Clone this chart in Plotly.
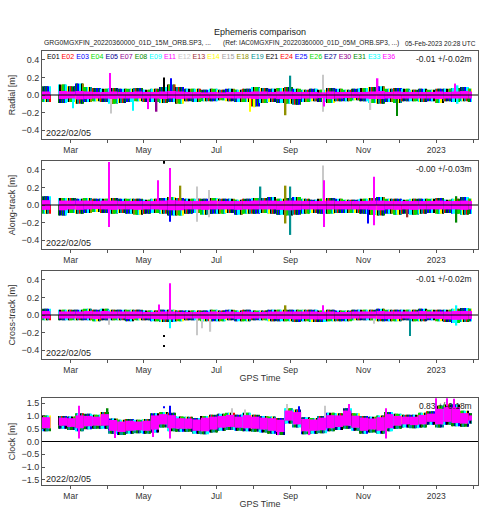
import plotly.graph_objects as go
import pandas as pd

# ---------------- data ----------------
sats = ['E01','E02','E03','E04','E05','E07','E08','E09','E11','E12','E13','E14',
        'E15','E18','E19','E21','E24','E25','E26','E27','E30','E31','E33','E36']
palette = ['#000000','#ff0000','#0000ff','#00dd00','#000090','#900090','#008800',
           '#00ffff','#ff00ff','#c8c8c8','#a03030','#ffff00','#a0a0a0','#909000','#009090']

week_start = ['2022-02-05','2022-02-19','2022-02-26','2022-03-05','2022-03-12','2022-03-19','2022-03-26',
              '2022-04-02','2022-04-09','2022-04-16','2022-04-23','2022-04-30','2022-05-07','2022-05-14',
              '2022-05-21','2022-05-28','2022-06-04','2022-06-11','2022-06-18','2022-06-25','2022-07-02',
              '2022-07-09','2022-07-16','2022-07-23','2022-07-30','2022-08-06','2022-08-13','2022-08-20',
              '2022-08-27','2022-09-03','2022-09-10','2022-09-17','2022-09-24','2022-10-01','2022-10-08',
              '2022-10-15','2022-10-22','2022-10-29','2022-11-05','2022-11-12','2022-11-19','2022-11-26',
              '2022-12-03','2022-12-10','2022-12-17','2022-12-24','2022-12-31','2023-01-07','2023-01-14',
              '2023-01-21','2023-01-28']
data_end = '2023-01-31'

# Radial
rad_hi = [0.10,0.12,0.10,0.13,0.09,0.08,0.07,0.08,0.07,0.07,
          0.08,0.06,0.07,0.09,0.12,0.09,0.07,0.07,0.06,0.07,
          0.06,0.07,0.06,0.07,0.09,0.08,0.07,0.08,0.09,0.07,
          0.06,0.07,0.06,0.08,0.07,0.06,0.07,0.08,0.09,0.10,
          0.07,0.08,0.07,0.06,0.07,0.06,0.07,0.07,0.08,0.09,
          0.07]
rad_lo = [-0.08,-0.09,-0.08,-0.10,-0.08,-0.07,-0.08,-0.10,-0.09,-0.08,
          -0.07,-0.08,-0.08,-0.09,-0.08,-0.10,-0.07,-0.08,-0.07,-0.07,
          -0.06,-0.07,-0.08,-0.08,-0.13,-0.09,-0.08,-0.09,-0.10,-0.11,
          -0.08,-0.07,-0.08,-0.09,-0.07,-0.07,-0.06,-0.07,-0.09,-0.10,
          -0.08,-0.09,-0.07,-0.07,-0.08,-0.07,-0.09,-0.07,-0.08,-0.07,
          -0.08]
rad_mhi = [0.04,0.045,0.04,0.045,0.04,0.035,0.035,0.04,0.035,0.035,
           0.04,0.035,0.035,0.04,0.045,0.04,0.035,0.035,0.03,0.035,
           0.03,0.035,0.035,0.035,0.04,0.04,0.035,0.04,0.04,0.035,
           0.035,0.035,0.03,0.04,0.035,0.035,0.035,0.035,0.04,0.045,
           0.035,0.04,0.035,0.035,0.035,0.035,0.04,0.035,0.04,0.045,
           0.04]
rad_mlo = [-0.045,-0.045,-0.04,-0.05,-0.045,-0.04,-0.04,-0.045,-0.04,-0.04,
           -0.04,-0.04,-0.04,-0.045,-0.04,-0.045,-0.04,-0.04,-0.035,-0.04,
           -0.035,-0.04,-0.04,-0.04,-0.045,-0.045,-0.04,-0.045,-0.045,-0.045,
           -0.04,-0.04,-0.035,-0.045,-0.04,-0.035,-0.035,-0.04,-0.045,-0.045,
           -0.04,-0.045,-0.04,-0.04,-0.04,-0.04,-0.045,-0.04,-0.04,-0.04,
           -0.04]
rad_sp_date = ['2022-03-03','2022-04-03','2022-04-04','2022-04-22','2022-05-05','2022-05-12','2022-05-18',
               '2022-05-24','2022-05-27','2022-07-29','2022-08-02','2022-08-28','2022-09-01','2022-09-28',
               '2022-09-29','2022-11-07','2022-11-13','2022-11-29','2023-01-17','2023-01-19']
rad_sp_sat = ['E09','E36','E12','E33','E11','E07','E01','E03','E13','E14','E14','E18','E19','E12',
              'E11','E12','E36','E08','E36','E33']
rad_sp_lo = [-0.15,0.0,-0.21,-0.18,-0.16,-0.19,0.0,0.0,0.0,-0.19,-0.14,-0.23,0.0,-0.19,
             -0.13,-0.17,0.0,-0.24,0.0,-0.10]
rad_sp_hi = [0.0,0.25,0.0,0.0,0.0,0.0,0.20,0.19,0.12,0.0,0.0,0.0,0.22,0.23,
             0.0,0.0,0.19,0.0,0.13,0.11]

# Along-track
alo_hi = [0.10,0.08,0.08,0.07,0.08,0.07,0.07,0.08,0.07,0.07,
          0.07,0.06,0.07,0.08,0.09,0.08,0.07,0.07,0.07,0.08,
          0.07,0.07,0.06,0.07,0.08,0.08,0.09,0.07,0.08,0.09,
          0.07,0.06,0.07,0.08,0.07,0.06,0.06,0.07,0.08,0.09,
          0.07,0.07,0.06,0.07,0.07,0.07,0.08,0.06,0.07,0.09,
          0.07]
alo_lo = [-0.10,-0.12,-0.09,-0.10,-0.09,-0.08,-0.09,-0.10,-0.09,-0.10,
          -0.11,-0.10,-0.09,-0.10,-0.12,-0.12,-0.10,-0.09,-0.11,-0.10,
          -0.10,-0.09,-0.11,-0.10,-0.10,-0.09,-0.10,-0.11,-0.12,-0.11,
          -0.10,-0.09,-0.10,-0.10,-0.09,-0.09,-0.09,-0.10,-0.11,-0.12,
          -0.10,-0.11,-0.10,-0.11,-0.10,-0.09,-0.10,-0.09,-0.10,-0.11,
          -0.10]
alo_mhi = [0.055,0.05,0.05,0.05,0.05,0.045,0.05,0.05,0.045,0.045,
           0.045,0.045,0.045,0.05,0.055,0.05,0.045,0.045,0.045,0.05,
           0.045,0.045,0.045,0.045,0.05,0.05,0.05,0.045,0.05,0.05,
           0.045,0.045,0.045,0.05,0.045,0.045,0.045,0.045,0.05,0.05,
           0.045,0.045,0.045,0.045,0.045,0.045,0.05,0.045,0.045,0.05,
           0.045]
alo_mlo = [-0.055,-0.06,-0.05,-0.055,-0.05,-0.045,-0.05,-0.055,-0.05,-0.05,
           -0.055,-0.05,-0.05,-0.055,-0.06,-0.06,-0.05,-0.05,-0.055,-0.05,
           -0.05,-0.05,-0.055,-0.05,-0.05,-0.05,-0.05,-0.055,-0.06,-0.055,
           -0.05,-0.05,-0.05,-0.05,-0.05,-0.05,-0.05,-0.05,-0.055,-0.06,
           -0.05,-0.055,-0.05,-0.055,-0.05,-0.05,-0.05,-0.05,-0.05,-0.055,
           -0.05]
alo_sp_date = ['2022-04-02','2022-05-13','2022-05-18','2022-05-23','2022-05-23','2022-06-01','2022-06-15',
               '2022-06-25','2022-08-07','2022-08-28','2022-09-01','2022-09-28','2022-09-29','2022-11-05',
               '2022-11-10','2022-12-08','2023-01-18']
alo_sp_sat = ['E36','E11','E01','E03','E36','E18','E12','E12','E19','E18','E19','E12','E36','E03',
              'E36','E13','E08']
alo_sp_lo = [-0.25,0.0,0.47,-0.19,0.0,0.0,-0.19,-0.14,0.0,-0.21,-0.34,0.0,-0.25,-0.21,
             -0.23,-0.14,-0.20]
alo_sp_hi = [0.49,0.28,0.50,0.30,0.42,0.22,0.21,0.17,0.21,0.22,0.21,0.45,0.28,0.0,
             0.32,0.0,0.10]

# Cross-track
crs_hi = [0.07,0.06,0.06,0.06,0.07,0.06,0.07,0.06,0.06,0.06,
          0.06,0.05,0.05,0.06,0.06,0.05,0.05,0.05,0.05,0.06,
          0.05,0.06,0.05,0.06,0.05,0.05,0.06,0.06,0.06,0.06,
          0.06,0.06,0.05,0.06,0.05,0.05,0.06,0.06,0.06,0.07,
          0.06,0.06,0.06,0.06,0.07,0.06,0.06,0.06,0.07,0.08,
          0.07]
crs_lo = [-0.06,-0.06,-0.06,-0.06,-0.06,-0.07,-0.06,-0.06,-0.06,-0.07,
          -0.06,-0.06,-0.07,-0.08,-0.08,-0.07,-0.06,-0.06,-0.07,-0.07,
          -0.07,-0.06,-0.07,-0.07,-0.06,-0.06,-0.07,-0.07,-0.07,-0.08,
          -0.07,-0.08,-0.08,-0.07,-0.07,-0.07,-0.06,-0.06,-0.06,-0.07,
          -0.07,-0.07,-0.06,-0.07,-0.07,-0.06,-0.07,-0.08,-0.09,-0.08,
          -0.07]
crs_mhi = [0.045,0.04,0.04,0.04,0.045,0.04,0.045,0.04,0.04,0.04,
           0.04,0.035,0.035,0.04,0.04,0.035,0.035,0.035,0.035,0.04,
           0.035,0.04,0.035,0.04,0.035,0.035,0.04,0.04,0.04,0.04,
           0.04,0.04,0.035,0.04,0.035,0.035,0.04,0.04,0.04,0.045,
           0.04,0.04,0.04,0.04,0.045,0.04,0.04,0.04,0.045,0.045,
           0.045]
crs_mlo = [-0.04,-0.04,-0.04,-0.04,-0.04,-0.045,-0.04,-0.04,-0.04,-0.045,
           -0.04,-0.04,-0.045,-0.05,-0.05,-0.045,-0.04,-0.04,-0.045,-0.045,
           -0.045,-0.04,-0.045,-0.045,-0.04,-0.04,-0.045,-0.045,-0.045,-0.05,
           -0.045,-0.05,-0.05,-0.045,-0.045,-0.045,-0.04,-0.04,-0.04,-0.045,
           -0.045,-0.045,-0.04,-0.045,-0.045,-0.04,-0.045,-0.05,-0.055,-0.05,
           -0.045]
crs_sp_date = ['2022-04-02','2022-05-14','2022-05-18','2022-05-18','2022-05-23','2022-05-23','2022-06-15',
               '2022-06-19','2022-06-26','2022-08-28','2022-09-28','2022-11-10','2022-12-10','2023-01-18']
crs_sp_sat = ['E12','E36','E01','E01','E36','E09','E12','E12','E12','E18','E36','E12','E19','E33']
crs_sp_lo = [-0.11,0.0,-0.36,-0.25,0.0,-0.15,-0.23,-0.15,-0.19,0.0,0.0,-0.10,-0.24,-0.12]
crs_sp_hi = [0.0,0.12,-0.34,-0.23,0.36,0.0,0.0,0.0,0.0,0.11,0.11,0.0,0.0,0.11]

# Clock
clk_hi = [1.02,1.00,0.98,1.10,1.08,1.05,1.15,0.90,0.85,0.88,
          0.85,0.88,1.10,1.15,1.12,0.98,0.97,0.92,1.00,1.05,
          1.08,1.12,1.05,1.12,1.05,1.00,0.98,0.92,1.30,1.25,
          0.95,0.92,1.00,1.12,1.10,1.30,1.10,1.00,0.97,1.02,
          1.15,1.08,1.05,1.05,1.12,1.18,1.40,1.45,1.45,1.20,
          1.10]
clk_lo = [0.40,0.50,0.45,0.40,0.48,0.50,0.50,0.30,0.25,0.30,
          0.32,0.30,0.35,0.55,0.40,0.38,0.38,0.30,0.28,0.35,
          0.42,0.45,0.42,0.40,0.38,0.35,0.30,0.25,0.70,0.55,
          0.28,0.30,0.32,0.40,0.45,0.50,0.42,0.30,0.35,0.30,
          0.40,0.50,0.55,0.52,0.55,0.65,0.55,0.65,0.60,0.58,
          0.70]
clk_mhi = [0.95,0.93,0.91,1.02,1.00,0.97,1.07,0.84,0.78,0.81,
           0.78,0.81,1.02,1.07,1.03,0.91,0.90,0.86,0.93,0.97,
           1.00,1.04,0.97,1.03,0.97,0.93,0.91,0.85,1.21,1.15,
           0.88,0.86,0.93,1.03,1.02,1.21,1.01,0.93,0.90,0.95,
           1.07,1.00,0.97,0.97,1.04,1.09,1.28,1.34,1.34,1.11,
           1.02]
clk_mlo = [0.52,0.62,0.57,0.52,0.60,0.62,0.62,0.42,0.37,0.42,
           0.44,0.42,0.47,0.67,0.52,0.50,0.50,0.42,0.40,0.47,
           0.54,0.57,0.54,0.52,0.50,0.47,0.42,0.37,0.82,0.67,
           0.40,0.42,0.44,0.52,0.57,0.62,0.54,0.42,0.47,0.42,
           0.52,0.62,0.67,0.64,0.67,0.77,0.67,0.77,0.72,0.70,
           0.82]
clk_sp_date = ['2022-03-08','2022-04-01','2022-04-07','2022-05-09','2022-05-18','2022-05-23','2022-05-23',
               '2022-07-14','2022-07-25','2022-08-22','2022-08-29','2022-09-08','2022-09-17','2022-09-30',
               '2022-10-20','2022-11-20','2023-01-01','2023-01-10','2023-01-16']
clk_sp_sat = ['E36','E08','E36','E36','E03','E03','E36','E12','E12','E36','E12','E03','E36','E12',
              'E36','E36','E36','E36','E36']
clk_sp_lo = [0.12,0.9,0.14,0.18,1.30,0.9,0.12,0.9,0.9,0.25,0.9,1.0,0.25,0.9,
             0.9,0.12,0.9,0.9,0.9]
clk_sp_hi = [1.40,1.30,0.5,0.5,1.38,1.40,0.6,1.30,1.25,0.5,1.47,1.38,0.5,1.40,
             1.47,1.30,1.69,1.69,1.67]

panel_titles = ['Radial [m]', 'Along-track [m]', 'Cross-track [m]', 'Clock [m]']
panel_stats = ['-0.01 +/-0.02m', '-0.00 +/-0.03m', '-0.01 +/-0.02m', '0.83 +/-0.18m']
start_label = '2022/02/05'
xtick_vals = ['2022-03-01','2022-05-01','2022-07-01','2022-09-01','2022-11-01','2023-01-01']
xtick_text = ['Mar','May','Jul','Sep','Nov','2023']
xminor_vals = ['2022-02-01','2022-04-01','2022-06-01','2022-08-01','2022-10-01','2022-12-01','2023-02-01']
title_text = 'Ephemeris comparison'
sub_left = 'GRG0MGXFIN_20220360000_01D_15M_ORB.SP3, ...'
sub_mid = '(Ref: IAC0MGXFIN_20220360000_01D_05M_ORB.SP3, ...)'
sub_right = '05-Feb-2023 20:28 UTC'

# ---------------- figure ----------------
FONT = 'Liberation Sans, Arial, sans-serif'
sat_color = {s: palette[i % len(palette)] for i, s in enumerate(sats)}
fringe_cycle = ['E08','E09','E01','E03','E19','E04','E33','E05','E14','E18','E31','E02',
                'E19','E09','E08','E21','E26','E25']
teal_cycle = ['E19','E08','E31','E09','E05','E19','E01','E33','E08','E19','E03']

DAY = 86400000
ws = pd.to_datetime(week_start)
ends = []
for i in range(len(ws)):
    e = ws[i] + pd.Timedelta(days=7)
    if i + 1 < len(ws):
        e = min(e, ws[i + 1])
    else:
        e = min(e, pd.Timestamp(data_end))
    ends.append(e)
NSUB = 7
FILL = 0.8

def sub_bars(lo, hi, shift, cycle):
    xs, bases, heights, widths, cols = [], [], [], [], []
    k = 0
    for i in range(len(ws)):
        span = (ends[i] - ws[i]) / NSUB
        for j in range(NSUB):
            xs.append(ws[i] + span * j)
            bases.append(lo[i])
            heights.append(hi[i] - lo[i])
            widths.append(span.total_seconds() * 1000 * FILL)
            cols.append(sat_color[cycle[(k * 7 + shift) % len(cycle)]])
            k += 1
    return xs, bases, heights, widths, cols

panels = [
    (rad_hi, rad_lo, rad_mhi, rad_mlo, rad_sp_date, rad_sp_sat, rad_sp_lo, rad_sp_hi, [-0.5, 0.5], [-0.4, -0.2, 0.0, 0.2, 0.4]),
    (alo_hi, alo_lo, alo_mhi, alo_mlo, alo_sp_date, alo_sp_sat, alo_sp_lo, alo_sp_hi, [-0.5, 0.5], [-0.4, -0.2, 0.0, 0.2, 0.4]),
    (crs_hi, crs_lo, crs_mhi, crs_mlo, crs_sp_date, crs_sp_sat, crs_sp_lo, crs_sp_hi, [-0.5, 0.5], [-0.4, -0.2, 0.0, 0.2, 0.4]),
    (clk_hi, clk_lo, clk_mhi, clk_mlo, clk_sp_date, clk_sp_sat, clk_sp_lo, clk_sp_hi, [-1.7, 1.7], [-1.5, -1.0, -0.5, 0.0, 0.5, 1.0, 1.5]),
]

H, W = 520, 490
mt, mb, ml, mr = 51, 35, 39, 11
ph = H - mt - mb
pix = [(51, 139), (161, 249), (271, 359), (398, 485)]
domains = [[(H - mb - b) / ph, (H - mb - t) / ph] for t, b in pix]

fig = go.Figure()
layout = dict(width=W, height=H, margin=dict(l=ml, r=mr, t=mt, b=mb),
              paper_bgcolor='white', plot_bgcolor='white', barmode='overlay',
              showlegend=False, font=dict(family=FONT, size=9, color='#222'))
shapes, annotations = [], []

def add_bars(xs, bs, hs, wd, cl, xa, ya):
    fig.add_trace(go.Bar(x=xs, y=hs, base=bs, width=wd, offset=0, marker=dict(color=cl, line=dict(width=0)),
                         xaxis=xa, yaxis=ya, hoverinfo='skip'))

for p, (hi, lo, mhi, mlo, sd, ss, slo, shi, yr, yt) in enumerate(panels):
    sfx = '' if p == 0 else str(p + 1)
    xa, ya = 'x' + sfx, 'y' + sfx
    # colored fringe (other satellites)
    if p < 3:
        zeros = [0.0] * len(hi)
        add_bars(*sub_bars(zeros, hi, 0, fringe_cycle), xa, ya)
        add_bars(*sub_bars(lo, zeros, 5, fringe_cycle), xa, ya)
    else:
        add_bars(*sub_bars(mlo, hi, 2, fringe_cycle), xa, ya)
        add_bars(*sub_bars(lo, mlo, 3, teal_cycle), xa, ya)
    # spikes / outliers
    fig.add_trace(go.Bar(x=pd.to_datetime(sd), y=[h - l for h, l in zip(shi, slo)], base=slo,
                         width=[1.2 * DAY] * len(sd), offset=-0.6 * DAY,
                         marker=dict(color=[sat_color[s] for s in ss], line=dict(width=0)),
                         xaxis=xa, yaxis=ya, hoverinfo='skip'))
    # E36 (drawn last, on top)
    fig.add_trace(go.Bar(x=ws, y=[h - l for h, l in zip(mhi, mlo)], base=mlo,
                         width=[(e - s).total_seconds() * 1000 for s, e in zip(ws, ends)], offset=0,
                         marker=dict(color=sat_color['E36'], line=dict(width=0)),
                         xaxis=xa, yaxis=ya, hoverinfo='skip'))

    layout['xaxis' + sfx] = dict(domain=[0, 1], anchor=ya, range=['2022-02-05', '2023-02-05'], type='date',
                                 showline=True, mirror=True, linecolor='#555', linewidth=1,
                                 ticks='outside', ticklen=3, tickcolor='#555', showgrid=False, zeroline=False,
                                 tickmode='array', tickvals=xtick_vals, ticktext=xtick_text,
                                 tickfont=dict(size=8.5, color='#333'),
                                 minor=dict(tickmode='array', tickvals=xminor_vals, ticks='outside',
                                            ticklen=3, tickcolor='#555', showgrid=False),
                                 title=dict(text='GPS Time' if p >= 2 else '', font=dict(size=9, color='#333'),
                                            standoff=0))
    layout['yaxis' + sfx] = dict(domain=domains[p], anchor=xa, range=yr, showline=True, mirror=True,
                                 linecolor='#555', linewidth=1, ticks='inside', ticklen=3, tickcolor='#555',
                                 tickmode='array', tickvals=yt, tickformat='.1f', showgrid=False, zeroline=False,
                                 tickfont=dict(size=9, color='#333'),
                                 title=dict(text=panel_titles[p], font=dict(size=9, color='#333'), standoff=4))
    shapes.append(dict(type='line', xref=xa + ' domain', x0=0, x1=1, yref=ya, y0=0, y1=0,
                       line=dict(color='#000', width=1), layer='above'))
    annotations.append(dict(xref=xa + ' domain', yref=ya + ' domain', x=0.005, y=0.0, xanchor='left',
                            yanchor='bottom', text=start_label, showarrow=False,
                            font=dict(size=9, color='#222'), yshift=-1))
    annotations.append(dict(xref=xa + ' domain', yref=ya + ' domain', x=0.99, y=0.99, xanchor='right',
                            yanchor='top', text=panel_stats[p], showarrow=False,
                            font=dict(size=8.5, color='#222')))

legend_txt = ' '.join('<span style="color:%s">%s</span>' % (sat_color[s], s) for s in sats)
annotations.append(dict(xref='x domain', yref='y domain', x=0.008, y=0.995, xanchor='left', yanchor='top',
                        text=legend_txt, showarrow=False, font=dict(size=7.1)))
annotations.append(dict(xref='paper', yref='paper', x=0.5, y=(H - mb - 32) / ph, xanchor='center',
                        yanchor='middle', text=title_text, showarrow=False, font=dict(size=9, color='#222')))
annotations.append(dict(xref='paper', yref='paper', x=0.0, y=(H - mb - 43) / ph, xanchor='left',
                        yanchor='middle', text=sub_left, showarrow=False, font=dict(size=6.8, color='#222')))
annotations.append(dict(xref='paper', yref='paper', x=(310 - ml) / (W - ml - mr), y=(H - mb - 43) / ph,
                        xanchor='center', yanchor='middle', text=sub_mid, showarrow=False,
                        font=dict(size=6.6, color='#222')))
annotations.append(dict(xref='paper', yref='paper', x=1.0, y=(H - mb - 43) / ph, xanchor='right',
                        yanchor='middle', text=sub_right, showarrow=False, font=dict(size=6.5, color='#222')))

layout['shapes'] = shapes
layout['annotations'] = annotations
fig.update_layout(**layout)
fig.write_html('out.html', config={'displayModeBar': False},
               post_script="document.body.style.margin='0px';")
